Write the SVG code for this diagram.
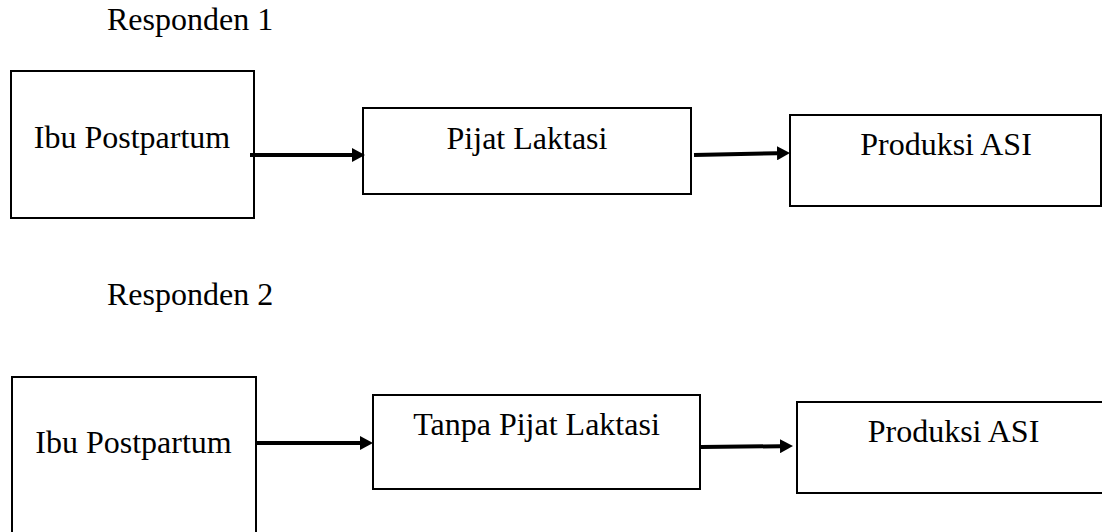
<svg xmlns="http://www.w3.org/2000/svg" width="1102" height="532" viewBox="0 0 1102 532">
<style>
.box{fill:#fff;stroke:#000;stroke-width:2}
.t{font-family:"Liberation Serif","Times New Roman",serif;font-size:32px;fill:#000}
.c{text-anchor:middle}
.arr{stroke:#000;stroke-width:4;fill:none}
</style>
<defs>
<marker id="ah" markerUnits="userSpaceOnUse" markerWidth="14" markerHeight="14" refX="0" refY="7" orient="auto" viewBox="0 0 14 14">
<path d="M0,0 L13,7 L0,14 Z" fill="#000"/>
</marker>
</defs>
<text class="t" x="107" y="30">Responden 1</text>
<text class="t" x="107" y="305">Responden 2</text>
<g id="n1"><rect class="box" x="11" y="71" width="243" height="147"/><text class="t c" x="132" y="148">Ibu Postpartum</text></g>
<g id="n2"><rect class="box" x="363" y="108" width="328" height="86"/><text class="t c" x="527" y="149">Pijat Laktasi</text></g>
<g id="n3"><rect class="box" x="790" y="115" width="311" height="91"/><text class="t c" x="946" y="155">Produksi ASI</text></g>
<g id="n4"><rect class="box" x="12" y="377" width="244" height="170"/><text class="t c" x="133.5" y="453">Ibu Postpartum</text></g>
<g id="n5"><rect class="box" x="373" y="395" width="327" height="94"/><text class="t c" x="536.5" y="435">Tanpa Pijat Laktasi</text></g>
<g id="n6"><rect class="box" x="797" y="402" width="310" height="91"/><text class="t c" x="953.5" y="442">Produksi ASI</text></g>
<g id="edges">
<path class="arr" d="M250,155 L352,155" marker-end="url(#ah)"/>
<path class="arr" d="M694,155 L777,153.3" marker-end="url(#ah)"/>
<path class="arr" d="M256,443 L360,443" marker-end="url(#ah)"/>
<path class="arr" d="M701,447 L780,446.2" marker-end="url(#ah)"/>
</g>
</svg>
